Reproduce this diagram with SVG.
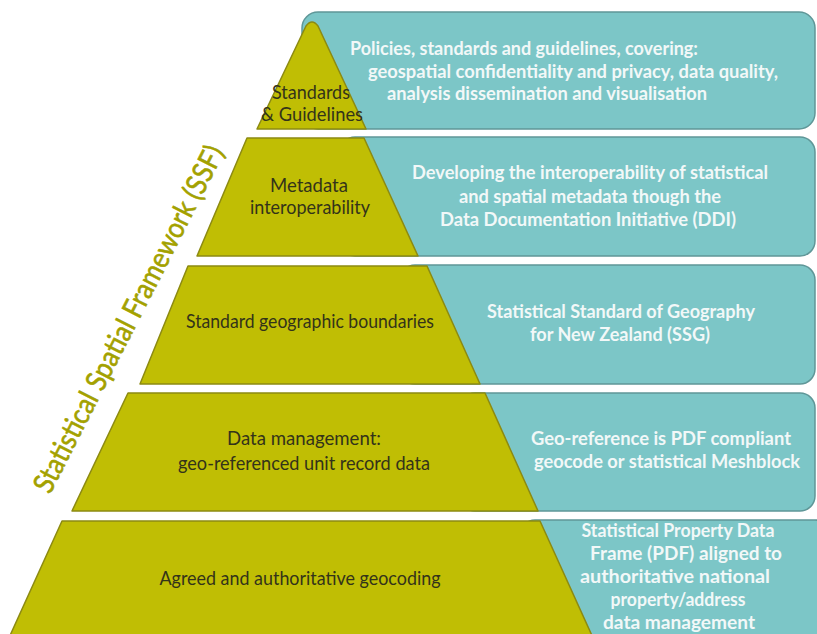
<svg xmlns="http://www.w3.org/2000/svg" width="817" height="634" viewBox="0 0 817 634">
<style>
.teal{fill:#7cc6c7;stroke:#5f9798;stroke-width:1.5}
.olive{fill:#c0be04;stroke:#8c8a12;stroke-width:1.5;stroke-linejoin:round}
.tt{font-family:Lato,"Open Sans",sans-serif;font-weight:bold;font-size:18.5px;fill:#f2f8f8;text-anchor:middle}
.ot{font-family:Lato,"Open Sans",sans-serif;font-size:19px;fill:#33331a;text-anchor:middle}
.ssf{font-family:Lato,"Open Sans",sans-serif;font-size:29px;fill:#a3a100;stroke:#a3a100;stroke-width:0.6}
</style>
<rect width="817" height="634" fill="#ffffff"/>
<g id="layer1">
<rect class="teal" x="302" y="12" width="513" height="117" rx="16"/>
<path class="olive" d="M306 26 Q312 18 318 26 L366 129 L257 129 Z"/>
<text class="ot" x="311" y="99" textLength="78" lengthAdjust="spacingAndGlyphs">Standards</text>
<text class="ot" x="312" y="121" textLength="102" lengthAdjust="spacingAndGlyphs">&amp; Guidelines</text>
<text class="tt" x="350" y="55" style="text-anchor:start" textLength="348" lengthAdjust="spacingAndGlyphs">Policies, standards and guidelines, covering:</text>
<text class="tt" x="368" y="78" style="text-anchor:start" textLength="410" lengthAdjust="spacingAndGlyphs">geospatial confidentiality and privacy, data quality,</text>
<text class="tt" x="387" y="100" style="text-anchor:start" textLength="320" lengthAdjust="spacingAndGlyphs">analysis dissemination and visualisation</text>
</g>
<g id="layer2">
<rect class="teal" x="340" y="137" width="475" height="119" rx="15"/>
<path class="olive" d="M247 138 L364 138 L418 256 L197 256 Z"/>
<text class="ot" x="309" y="192" textLength="78" lengthAdjust="spacingAndGlyphs">Metadata</text>
<text class="ot" x="310" y="214" textLength="120" lengthAdjust="spacingAndGlyphs">interoperability</text>
<text class="tt" x="590" y="179" textLength="356" lengthAdjust="spacingAndGlyphs">Developing the interoperability of statistical</text>
<text class="tt" x="590" y="203" textLength="262" lengthAdjust="spacingAndGlyphs">and spatial metadata though the</text>
<text class="tt" x="588" y="226" textLength="296" lengthAdjust="spacingAndGlyphs">Data Documentation Initiative (DDI)</text>
</g>
<g id="layer3">
<rect class="teal" x="400" y="265" width="415" height="119" rx="15"/>
<path class="olive" d="M188 266 L427 266 L480 384 L140 384 Z"/>
<text class="ot" x="310" y="328" textLength="248" lengthAdjust="spacingAndGlyphs">Standard geographic boundaries</text>
<text class="tt" x="621" y="318" textLength="268" lengthAdjust="spacingAndGlyphs">Statistical Standard of Geography</text>
<text class="tt" x="620" y="341" textLength="180" lengthAdjust="spacingAndGlyphs">for New Zealand (SSG)</text>
</g>
<g id="layer4">
<rect class="teal" x="460" y="393" width="355" height="118" rx="15"/>
<path class="olive" d="M128 393 L485 393 L538 511 L72 511 Z"/>
<text class="ot" x="304" y="445" textLength="154" lengthAdjust="spacingAndGlyphs">Data management:</text>
<text class="ot" x="304" y="470" textLength="252" lengthAdjust="spacingAndGlyphs">geo-referenced unit record data</text>
<text class="tt" x="661" y="445" textLength="260" lengthAdjust="spacingAndGlyphs">Geo-reference is PDF compliant</text>
<text class="tt" x="667" y="468" textLength="266" lengthAdjust="spacingAndGlyphs">geocode or statistical Meshblock</text>
</g>
<g id="layer5">
<rect class="teal" x="520" y="520" width="310" height="130" rx="15"/>
<path class="olive" d="M62 521 L540 521 L594 640 L8 640 Z"/>
<text class="ot" x="300" y="585" textLength="281" lengthAdjust="spacingAndGlyphs">Agreed and authoritative geocoding</text>
<text class="tt" x="678" y="537" textLength="193" lengthAdjust="spacingAndGlyphs">Statistical Property Data</text>
<text class="tt" x="686" y="560" textLength="192" lengthAdjust="spacingAndGlyphs">Frame (PDF) aligned to</text>
<text class="tt" x="675" y="583" textLength="190" lengthAdjust="spacingAndGlyphs">authoritative national</text>
<text class="tt" x="678" y="606" textLength="135" lengthAdjust="spacingAndGlyphs">property/address</text>
<text class="tt" x="679" y="629" textLength="152" lengthAdjust="spacingAndGlyphs">data management</text>
</g>
<g id="connectors"></g>
<text class="ssf" transform="translate(50,495) rotate(-63)" x="0" y="0" textLength="385" lengthAdjust="spacingAndGlyphs">Statistical Spatial Framework (SSF)</text>
</svg>
